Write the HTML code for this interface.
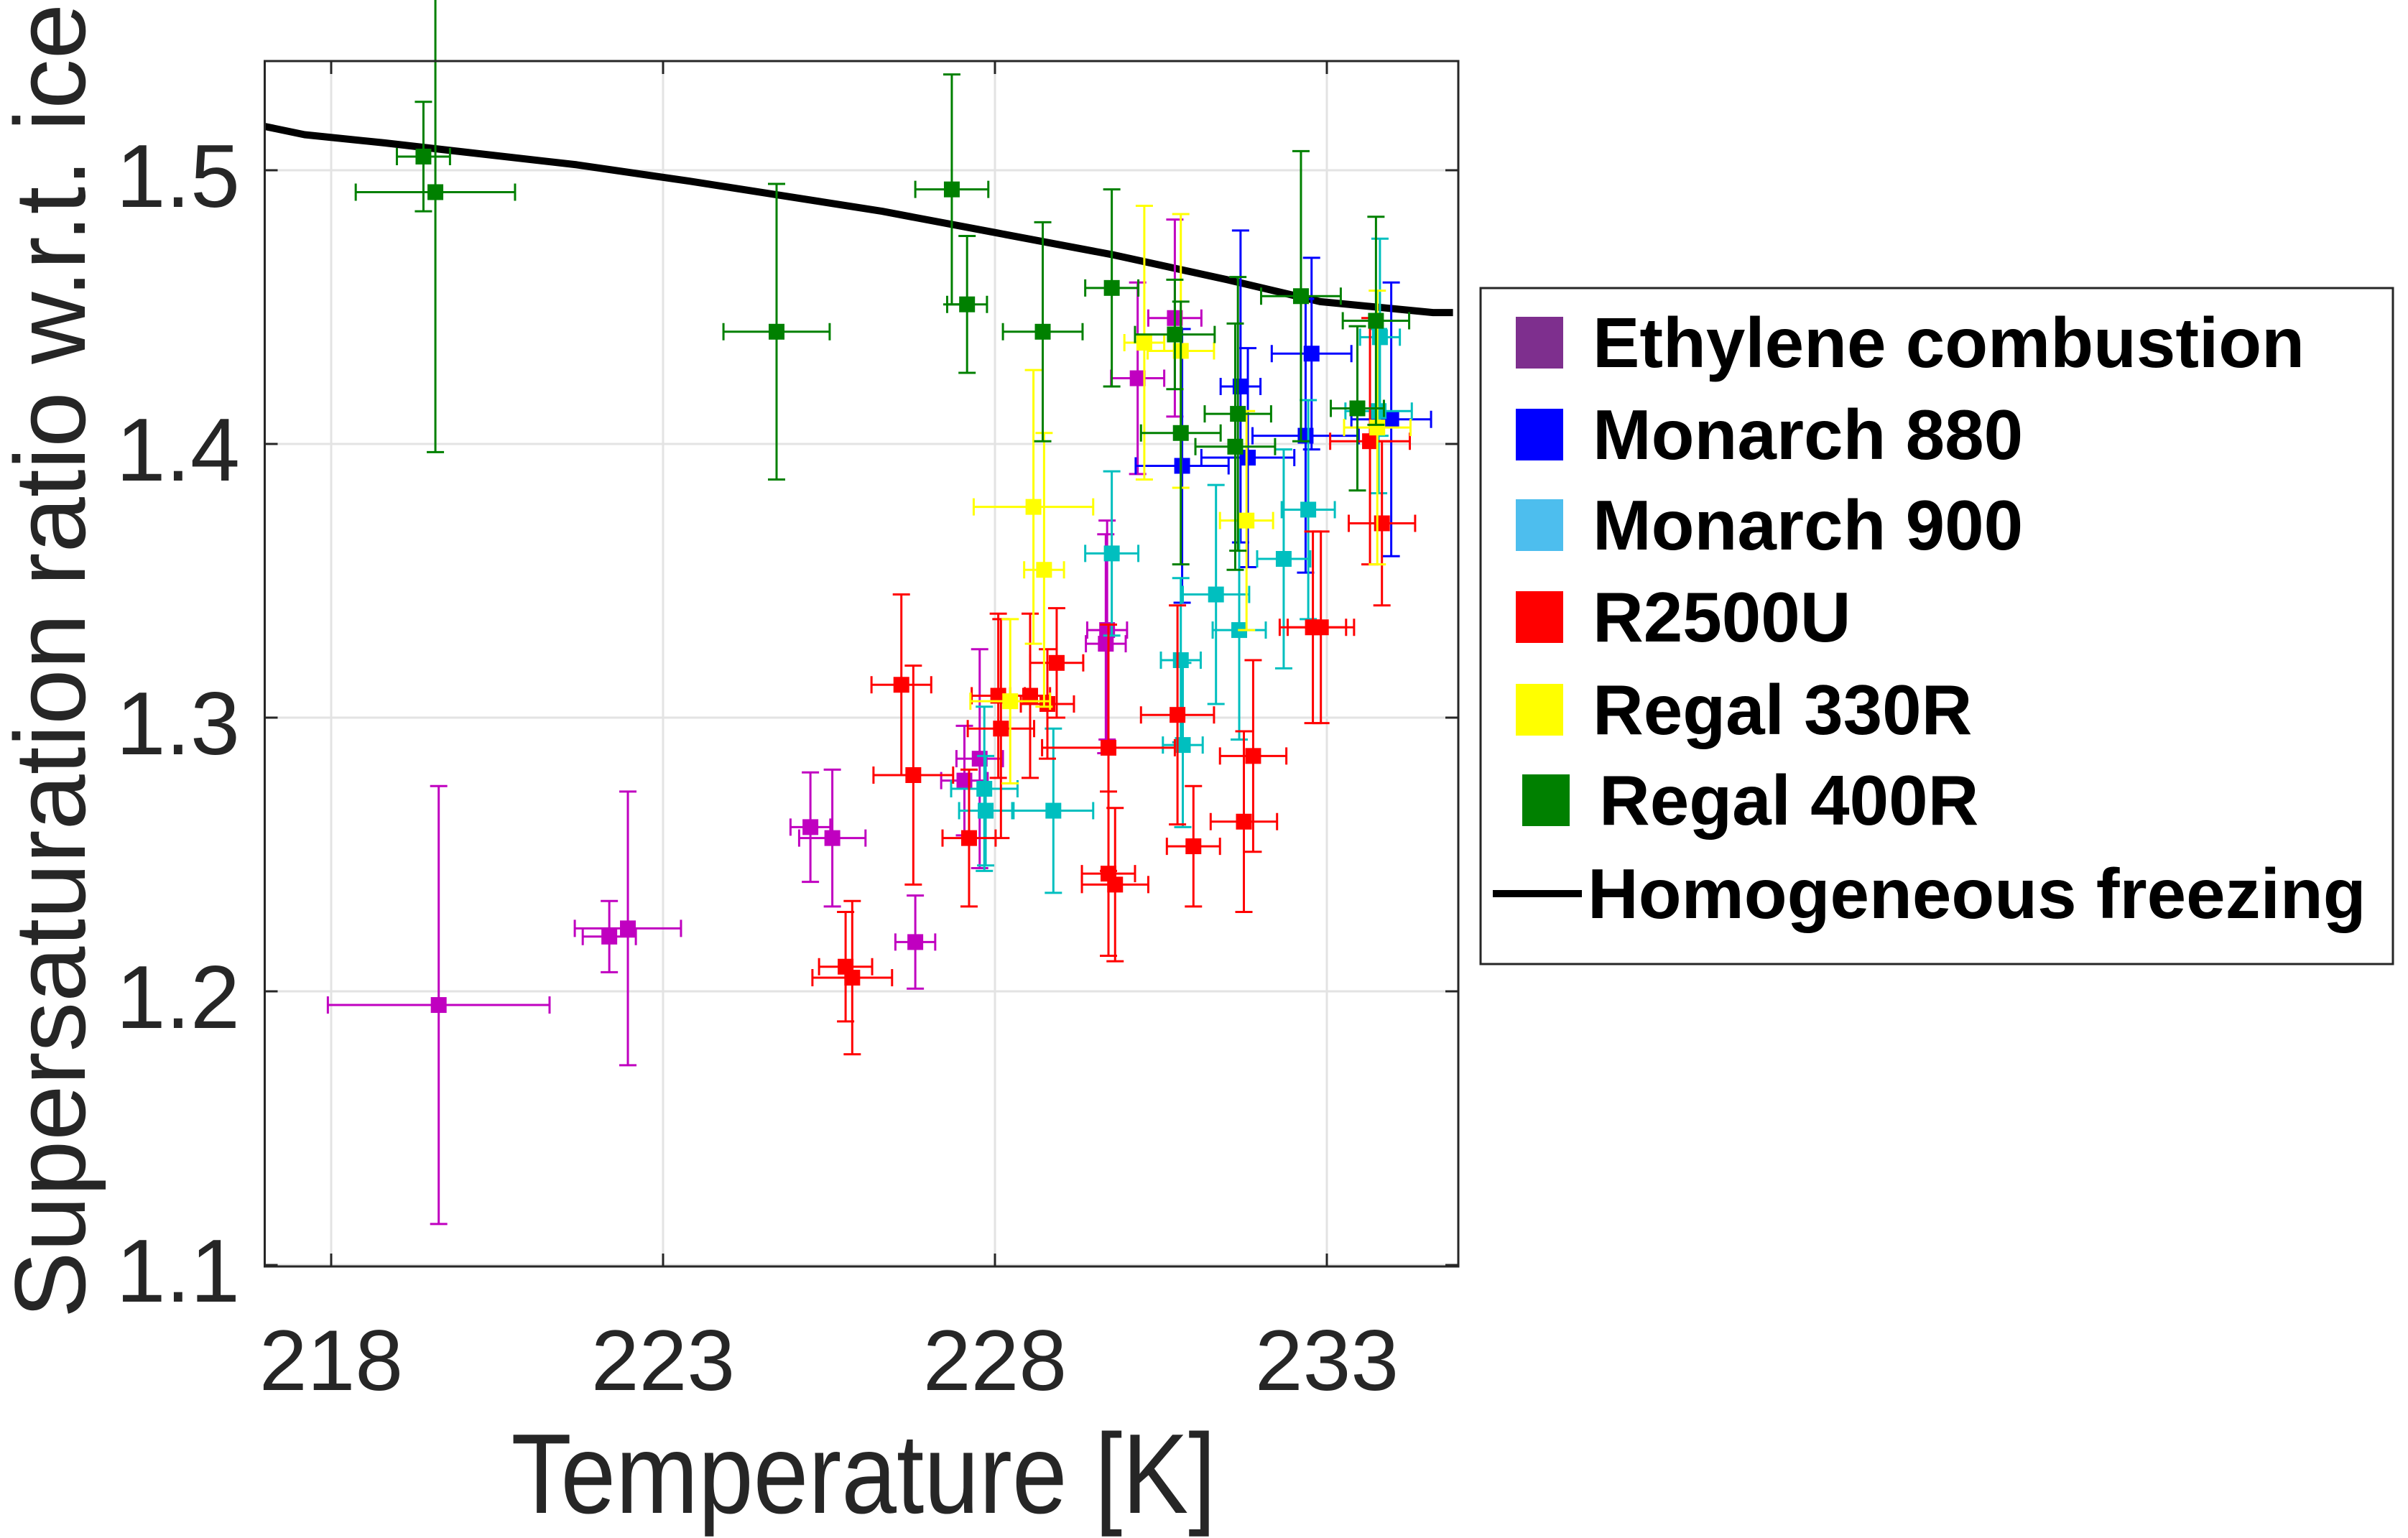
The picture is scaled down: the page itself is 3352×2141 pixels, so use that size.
<!DOCTYPE html>
<html>
<head>
<meta charset="utf-8">
<style>
html,body{margin:0;padding:0;background:#fff;}
svg{display:block;}
text{font-family:"Liberation Sans",sans-serif;}
</style>
</head>
<body>
<svg id="chart" width="3352" height="2141" viewBox="0 0 3352 2141" xmlns="http://www.w3.org/2000/svg">
<rect x="0" y="0" width="3352" height="2141" fill="#fff"/>
<g id="grid"></g>
<g id="plot"></g>
<g id="axes"></g>
<g id="legend"></g>
</svg>
<script>
// ---- data ----
const xTicks = [218, 223, 228, 233];
const yTicks = [1.1, 1.2, 1.3, 1.4, 1.5];
const yTickLabels = ["1.1", "1.2", "1.3", "1.4", "1.5"];

const homT = [217.0, 217.6, 218.8, 221.7, 223.4, 226.3, 228.05, 229.8, 231.5, 232.9, 234.6, 234.9];
const homS = [1.516, 1.513, 1.510, 1.502, 1.496, 1.485, 1.477, 1.469, 1.460, 1.452, 1.448, 1.448];

const ethT  = [219.62, 222.19, 222.47, 225.22, 225.55, 226.80, 227.54, 227.77, 229.67, 229.69, 230.15, 230.71];
const ethS  = [1.195, 1.220, 1.223, 1.260, 1.256, 1.218, 1.277, 1.285, 1.327, 1.332, 1.424, 1.446];
const ethDT = [1.67, 0.4, 0.8, 0.3, 0.5, 0.3, 0.35, 0.35, 0.3, 0.3, 0.4, 0.4];
const ethDS = [0.08, 0.013, 0.05, 0.02, 0.025, 0.017, 0.02, 0.04, 0.04, 0.04, 0.035, 0.036];

const m880T  = [230.82, 231.70, 231.81, 232.77, 232.68, 233.97];
const m880S  = [1.392, 1.421, 1.395, 1.433, 1.403, 1.409];
const m880DT = [0.7, 0.3, 0.7, 0.6, 0.8, 0.6];
const m880DS = [0.05, 0.057, 0.04, 0.035, 0.05, 0.05];

const m900T  = [227.84, 227.86, 228.88, 229.76, 230.80, 230.83, 231.33, 231.68, 232.35, 232.72, 233.80, 233.78];
const m900S  = [1.274, 1.266, 1.266, 1.360, 1.321, 1.290, 1.345, 1.332, 1.358, 1.376, 1.439, 1.412];
const m900DT = [0.5, 0.4, 0.6, 0.4, 0.3, 0.3, 0.5, 0.4, 0.4, 0.4, 0.3, 0.5];
const m900DS = [0.03, 0.02, 0.03, 0.03, 0.03, 0.03, 0.04, 0.04, 0.04, 0.04, 0.036, 0.03];

const redT  = [226.59, 226.77, 225.75, 225.85, 227.61, 228.09, 228.05, 228.53, 228.79, 228.93, 229.71, 229.71, 229.81, 230.75, 230.99, 231.75, 231.89, 232.79, 232.91, 233.65, 233.83];
const redS  = [1.312, 1.279, 1.209, 1.205, 1.256, 1.296, 1.308, 1.308, 1.305, 1.320, 1.289, 1.243, 1.239, 1.301, 1.253, 1.262, 1.286, 1.333, 1.333, 1.401, 1.371];
const redDT = [0.45, 0.6, 0.4, 0.6, 0.4, 0.5, 0.4, 0.3, 0.4, 0.4, 1.0, 0.4, 0.5, 0.55, 0.4, 0.5, 0.5, 0.5, 0.5, 0.6, 0.5];
const redDS = [0.033, 0.04, 0.02, 0.028, 0.025, 0.04, 0.03, 0.03, 0.02, 0.02, 0.045, 0.03, 0.028, 0.04, 0.022, 0.033, 0.035, 0.035, 0.035, 0.045, 0.03];

const yelT  = [228.23, 228.58, 228.74, 230.25, 230.80, 231.79, 233.76];
const yelS  = [1.306, 1.377, 1.354, 1.437, 1.434, 1.372, 1.406];
const yelDT = [0.6, 0.9, 0.3, 0.3, 0.5, 0.4, 0.5];
const yelDS = [0.03, 0.05, 0.05, 0.05, 0.05, 0.04, 0.05];

const grnT  = [219.39, 219.57, 224.71, 227.35, 227.58, 228.72, 229.76, 230.71, 230.80, 231.66, 231.62, 232.61, 233.46, 233.74];
const grnS  = [1.505, 1.492, 1.441, 1.493, 1.451, 1.441, 1.457, 1.440, 1.404, 1.411, 1.399, 1.454, 1.413, 1.445];
const grnDT = [0.4, 1.2, 0.8, 0.55, 0.3, 0.6, 0.4, 0.6, 0.6, 0.5, 0.6, 0.6, 0.4, 0.5];
const grnDS = [0.02, 0.095, 0.054, 0.042, 0.025, 0.04, 0.036, 0.02, 0.048, 0.05, 0.045, 0.053, 0.03, 0.038];

const legendLabels = ["Ethylene combustion", "Monarch 880", "Monarch 900", "R2500U", "Regal 330R", "Regal 400R", "Homogeneous freezing"];

// ---- scales ----
const X0 = 368.5, X1 = 2030, Y0 = 85, Y1 = 1763;
function sx(t){ return 461 + (t - 218) * 92.4; }
function sy(s){ return 1761 - (s - 1.1) * 3810; }

const NS = "http://www.w3.org/2000/svg";
function mk(tag, attrs, parent){
  const e = document.createElementNS(NS, tag);
  for (const k in attrs) e.setAttribute(k, attrs[k]);
  parent.appendChild(e);
  return e;
}
const grid = document.getElementById('grid');
const plot = document.getElementById('plot');
const axes = document.getElementById('axes');
const legend = document.getElementById('legend');

// grid
xTicks.forEach(t => {
  const l = mk('line', {x1:sx(t), x2:sx(t), y1:Y0, y2:Y1, stroke:'#e3e3e3', 'stroke-width':3}, grid);
  
  
});
yTicks.forEach(v => {
  const l = mk('line', {x1:X0, x2:X1, y1:sy(v), y2:sy(v), stroke:'#e3e3e3', 'stroke-width':3}, grid);
  
  
});

// homogeneous freezing line
const hp = homT.map((t,i) => sx(t).toFixed(1) + ',' + sy(homS[i]).toFixed(1)).join(' ');
const hl = mk('polyline', {points:hp, fill:'none', stroke:'#000', 'stroke-width':10, 'stroke-linejoin':'round'}, plot);



const series = [
  {name:'ethylene-combustion', T:ethT, S:ethS, dT:ethDT, dS:ethDS, color:'#c000c0'},
  {name:'monarch-880', T:m880T, S:m880S, dT:m880DT, dS:m880DS, color:'#0000ff'},
  {name:'monarch-900', T:m900T, S:m900S, dT:m900DT, dS:m900DS, color:'#00bfbf'},
  {name:'r2500u', T:redT, S:redS, dT:redDT, dS:redDS, color:'#ff0000'},
  {name:'regal-330r', T:yelT, S:yelS, dT:yelDT, dS:yelDS, color:'#ffff00'},
  {name:'regal-400r', T:grnT, S:grnS, dT:grnDT, dS:grnDS, color:'#008000'}
];
const CAP = 12, MK = 22, LW = 3;
series.forEach(s => {
  const g = mk('g', {}, plot);
  
  
  s.T.forEach((t,i) => {
    const cx = sx(t), cy = sy(s.S[i]);
    const xl = sx(t - s.dT[i]), xr = sx(t + s.dT[i]);
    const yt = sy(s.S[i] + s.dS[i]), yb = sy(s.S[i] - s.dS[i]);
    const d = `M${xl},${cy}H${xr}M${xl},${cy-CAP}V${cy+CAP}M${xr},${cy-CAP}V${cy+CAP}` +
              `M${cx},${yt}V${yb}M${cx-CAP},${yt}H${cx+CAP}M${cx-CAP},${yb}H${cx+CAP}`;
    const eb = mk('path', {d:d, stroke:s.color, 'stroke-width':LW, fill:'none'}, g);
    
    
    const m = mk('rect', {x:cx-MK/2, y:cy-MK/2, width:MK, height:MK, fill:s.color}, g);
    
    
  });
});

// axes box
const box = mk('rect', {x:X0, y:Y0, width:X1-X0, height:Y1-Y0, fill:'none', stroke:'#262626', 'stroke-width':3}, axes);


xTicks.forEach(t => {
  const tk = mk('path', {d:`M${sx(t)},${Y1}V${Y1-18}M${sx(t)},${Y0}V${Y0+18}`, stroke:'#262626', 'stroke-width':3}, axes);
  
  
  const lb = mk('text', {x:sx(t), y:1935, 'font-size':120, fill:'#262626', 'text-anchor':'middle'}, axes);
  lb.textContent = String(t);
  
  
});
yTicks.forEach((v,i) => {
  const tk = mk('path', {d:`M${X0},${sy(v)}H${X0+18}M${X1},${sy(v)}H${X1-18}`, stroke:'#262626', 'stroke-width':3}, axes);
  
  
  const lb = mk('text', {x:334, y:sy(v)+51, 'font-size':124, fill:'#262626', 'text-anchor':'end'}, axes);
  lb.textContent = yTickLabels[i];
  
  
});
const xt = mk('text', {x:1202, y:2106, 'font-size':158, fill:'#262626', 'text-anchor':'middle', textLength:981, lengthAdjust:'spacingAndGlyphs'}, axes);
xt.textContent = 'Temperature [K]';


const yt = mk('text', {x:0, y:0, 'font-size':140, fill:'#262626', 'text-anchor':'middle', textLength:1830, lengthAdjust:'spacingAndGlyphs', transform:'translate(118,920) rotate(-90)'}, axes);
yt.textContent = 'Supersaturation ratio w.r.t. ice';



// legend
const lbox = mk('rect', {x:2061, y:401, width:1270, height:941, fill:'#fff', stroke:'#262626', 'stroke-width':3}, legend);


const legColors = ['#7e2f8e', '#0000ff', '#4dbeee', '#ff0000', '#ffff00', '#008000'];
const legY = [477, 605, 731, 859, 988, 1114, 1244];
legendLabels.forEach((lab,i) => {
  if (i < 6) {
    const dx = (i === 5) ? 9 : 0;
    const sq = mk('rect', {x:2110+dx, y:legY[i]-36, width:66, height:72, fill:legColors[i]}, legend);
    
    
  } else {
    const ln = mk('line', {x1:2078, x2:2202, y1:legY[i], y2:legY[i], stroke:'#000', 'stroke-width':10}, legend);
    
    
  }
  const tx = (i === 5) ? 2226 : (i === 6 ? 2210 : 2217);
  const t = mk('text', {x:tx, y:legY[i]+34, 'font-size':98, 'font-weight':'bold', fill:'#000'}, legend);
  t.textContent = lab;
  
  
});
</script>
</body>
</html>
